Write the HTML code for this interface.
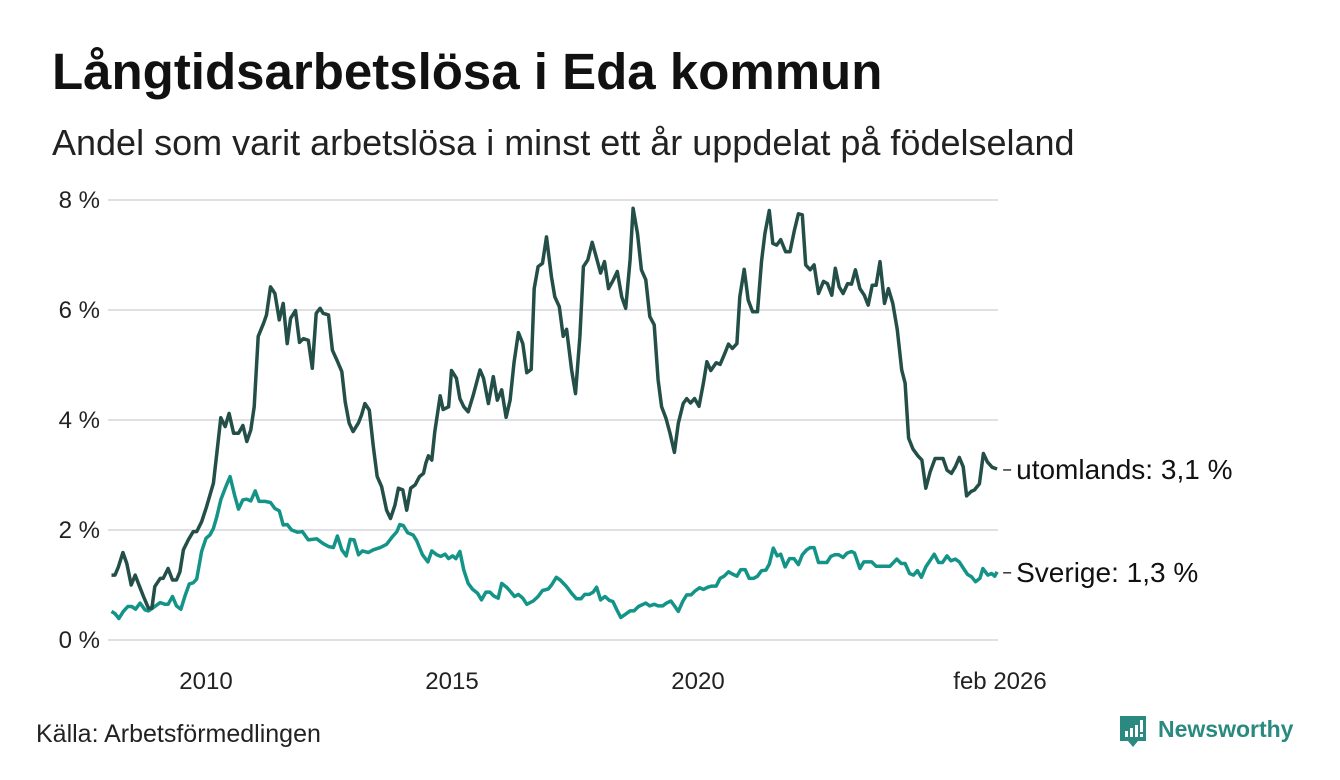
<!DOCTYPE html>
<html><head><meta charset="utf-8">
<style>
body{margin:0;width:1340px;height:780px;background:#fff;font-family:"Liberation Sans","DejaVu Sans",sans-serif;overflow:hidden;position:relative;color:#111}
.t{position:absolute;white-space:nowrap;line-height:1}
</style></head><body>
<div class="t" style="left:52px;top:46px;font-size:51px;font-weight:bold;">Långtidsarbetslösa i Eda kommun</div>
<div class="t" style="left:52px;top:125px;font-size:36px;color:#222">Andel som varit arbetslösa i minst ett år uppdelat på födelseland</div>
<svg id="chart" width="1340" height="780" style="position:absolute;left:0;top:0"></svg>
<div class="t" style="left:36px;top:722px;font-size:25px;color:#222">Källa: Arbetsförmedlingen</div>
<div style="position:absolute;left:1119px;top:715px;">
<svg width="28" height="34" viewBox="0 0 28 34" style="position:absolute;left:0;top:0"><path d="M1 1H27V26H19L14 32L9 26H1Z" fill="#2a8a80"/><rect x="6" y="16" width="3" height="6" fill="#fff"/><rect x="11" y="13" width="3" height="9" fill="#fff"/><rect x="16" y="10" width="3" height="12" fill="#fff"/><rect x="21" y="5" width="3" height="12" fill="#fff"/><rect x="21" y="19" width="3" height="3" fill="#fff"/></svg>
<div class="t" style="left:39px;top:3px;font-size:23px;font-weight:bold;color:#2a8a80">Newsworthy</div>
</div>
<script>
const yTicks=[0,2,4,6,8];
const xTicks=[2010,2015,2020];
const xTickLabels=["2010","2015","2020"];
const endLabel="feb 2026";
const utomYears=[2008.08,2008.15,2008.22,2008.31,2008.39,2008.48,2008.56,2008.65,2008.73,2008.83,2008.90,2008.96,2009.07,2009.13,2009.23,2009.32,2009.40,2009.47,2009.54,2009.64,2009.74,2009.81,2009.91,2010.01,2010.15,2010.22,2010.30,2010.39,2010.47,2010.56,2010.66,2010.75,2010.83,2010.91,2010.98,2011.06,2011.17,2011.23,2011.31,2011.40,2011.49,2011.57,2011.65,2011.72,2011.82,2011.90,2011.98,2012.08,2012.16,2012.24,2012.32,2012.38,2012.49,2012.57,2012.66,2012.76,2012.83,2012.91,2012.99,2013.10,2013.16,2013.23,2013.32,2013.40,2013.48,2013.57,2013.67,2013.75,2013.84,2013.91,2014.00,2014.08,2014.16,2014.25,2014.34,2014.42,2014.47,2014.52,2014.59,2014.65,2014.76,2014.82,2014.93,2014.99,2015.09,2015.16,2015.24,2015.33,2015.43,2015.57,2015.64,2015.74,2015.84,2015.92,2016.01,2016.10,2016.18,2016.26,2016.35,2016.44,2016.52,2016.61,2016.67,2016.75,2016.84,2016.92,2017.02,2017.09,2017.18,2017.26,2017.33,2017.43,2017.51,2017.60,2017.67,2017.76,2017.85,2017.94,2018.02,2018.10,2018.18,2018.28,2018.36,2018.45,2018.53,2018.62,2018.68,2018.77,2018.85,2018.94,2019.02,2019.11,2019.19,2019.26,2019.35,2019.43,2019.52,2019.60,2019.70,2019.77,2019.85,2019.93,2020.02,2020.11,2020.18,2020.26,2020.37,2020.45,2020.53,2020.62,2020.70,2020.79,2020.85,2020.94,2021.02,2021.11,2021.21,2021.29,2021.36,2021.45,2021.52,2021.60,2021.68,2021.78,2021.87,2021.96,2022.04,2022.12,2022.19,2022.28,2022.36,2022.45,2022.55,2022.63,2022.72,2022.79,2022.87,2022.95,2023.04,2023.12,2023.20,2023.29,2023.38,2023.46,2023.54,2023.62,2023.70,2023.79,2023.87,2023.96,2024.05,2024.14,2024.21,2024.28,2024.37,2024.47,2024.55,2024.63,2024.72,2024.82,2024.98,2025.06,2025.15,2025.23,2025.31,2025.39,2025.46,2025.55,2025.62,2025.72,2025.80,2025.88,2025.98,2026.08];
const utomValues=[1.18,1.18,1.33,1.59,1.39,1.00,1.18,0.97,0.79,0.58,0.58,0.97,1.12,1.12,1.30,1.09,1.09,1.24,1.64,1.82,1.97,1.97,2.15,2.42,2.85,3.39,4.04,3.88,4.12,3.76,3.76,3.90,3.61,3.82,4.24,5.52,5.76,5.91,6.42,6.30,5.82,6.12,5.39,5.85,5.99,5.41,5.48,5.45,4.94,5.94,6.03,5.94,5.91,5.27,5.09,4.88,4.33,3.94,3.79,3.95,4.09,4.30,4.18,3.52,2.97,2.79,2.36,2.21,2.45,2.76,2.73,2.36,2.76,2.82,2.97,3.03,3.22,3.35,3.27,3.79,4.44,4.19,4.24,4.90,4.76,4.39,4.24,4.15,4.45,4.91,4.76,4.30,4.79,4.36,4.55,4.05,4.36,5.04,5.59,5.39,4.86,4.92,6.39,6.79,6.85,7.33,6.61,6.24,6.06,5.52,5.65,4.91,4.48,5.52,6.79,6.91,7.23,6.94,6.67,6.88,6.39,6.55,6.70,6.24,6.03,6.91,7.85,7.39,6.73,6.55,5.88,5.73,4.73,4.24,4.03,3.76,3.41,3.94,4.30,4.39,4.31,4.39,4.25,4.67,5.06,4.90,5.04,5.01,5.18,5.38,5.30,5.39,6.24,6.74,6.18,5.97,5.97,6.88,7.39,7.81,7.21,7.18,7.28,7.06,7.06,7.45,7.75,7.73,6.82,6.73,6.82,6.30,6.52,6.48,6.27,6.76,6.42,6.30,6.48,6.47,6.73,6.39,6.27,6.09,6.45,6.45,6.88,6.12,6.39,6.12,5.64,4.91,4.67,3.67,3.47,3.35,3.27,2.76,3.06,3.30,3.30,3.09,3.03,3.15,3.32,3.15,2.62,2.70,2.73,2.84,3.39,3.24,3.14,3.11];
const sveYears=[2008.08,2008.15,2008.23,2008.32,2008.41,2008.49,2008.57,2008.66,2008.76,2008.83,2008.93,2009.07,2009.17,2009.23,2009.32,2009.40,2009.49,2009.57,2009.66,2009.74,2009.81,2009.91,2010.00,2010.08,2010.15,2010.22,2010.30,2010.39,2010.49,2010.58,2010.66,2010.75,2010.83,2010.91,2011.00,2011.08,2011.20,2011.31,2011.40,2011.49,2011.57,2011.65,2011.74,2011.86,2011.96,2012.08,2012.25,2012.37,2012.49,2012.59,2012.67,2012.76,2012.85,2012.93,2013.01,2013.10,2013.18,2013.30,2013.40,2013.54,2013.67,2013.79,2013.88,2013.94,2014.01,2014.10,2014.21,2014.28,2014.40,2014.51,2014.59,2014.69,2014.77,2014.86,2014.93,2015.01,2015.08,2015.16,2015.24,2015.33,2015.42,2015.52,2015.60,2015.69,2015.77,2015.85,2015.94,2016.01,2016.11,2016.19,2016.27,2016.35,2016.44,2016.52,2016.65,2016.75,2016.84,2016.96,2017.03,2017.12,2017.20,2017.32,2017.43,2017.53,2017.62,2017.70,2017.79,2017.87,2017.94,2018.02,2018.11,2018.20,2018.27,2018.35,2018.43,2018.53,2018.62,2018.70,2018.79,2018.94,2019.02,2019.11,2019.19,2019.28,2019.36,2019.45,2019.53,2019.60,2019.69,2019.77,2019.86,2019.94,2020.03,2020.11,2020.20,2020.28,2020.37,2020.45,2020.53,2020.62,2020.70,2020.79,2020.87,2020.96,2021.04,2021.13,2021.21,2021.29,2021.38,2021.45,2021.53,2021.61,2021.68,2021.77,2021.86,2021.95,2022.04,2022.12,2022.21,2022.28,2022.36,2022.45,2022.62,2022.70,2022.78,2022.86,2022.95,2023.03,2023.12,2023.18,2023.29,2023.37,2023.53,2023.62,2023.90,2024.04,2024.13,2024.21,2024.30,2024.38,2024.46,2024.54,2024.63,2024.72,2024.80,2024.89,2024.97,2025.06,2025.14,2025.23,2025.31,2025.39,2025.48,2025.56,2025.64,2025.73,2025.79,2025.89,2025.97,2026.03,2026.08];
const sveValues=[0.52,0.48,0.39,0.52,0.61,0.61,0.56,0.67,0.55,0.53,0.59,0.68,0.65,0.65,0.79,0.62,0.56,0.79,1.02,1.04,1.11,1.61,1.85,1.91,2.03,2.24,2.55,2.76,2.97,2.64,2.38,2.55,2.56,2.53,2.71,2.52,2.52,2.50,2.39,2.35,2.09,2.10,2.00,1.96,1.97,1.82,1.84,1.76,1.70,1.68,1.89,1.64,1.53,1.83,1.82,1.55,1.62,1.59,1.64,1.68,1.74,1.88,1.97,2.10,2.08,1.95,1.91,1.81,1.55,1.42,1.62,1.55,1.52,1.56,1.48,1.53,1.48,1.61,1.27,1.03,0.92,0.85,0.73,0.87,0.87,0.80,0.76,1.03,0.96,0.88,0.79,0.83,0.76,0.65,0.71,0.79,0.90,0.93,1.01,1.14,1.09,0.98,0.85,0.75,0.75,0.83,0.83,0.87,0.96,0.73,0.79,0.72,0.70,0.55,0.41,0.47,0.53,0.53,0.61,0.67,0.62,0.65,0.62,0.62,0.67,0.71,0.61,0.52,0.70,0.82,0.82,0.89,0.95,0.92,0.96,0.98,0.98,1.12,1.16,1.24,1.20,1.16,1.28,1.28,1.12,1.12,1.16,1.26,1.27,1.38,1.67,1.53,1.56,1.33,1.48,1.48,1.37,1.55,1.64,1.68,1.68,1.41,1.41,1.52,1.55,1.55,1.50,1.58,1.61,1.58,1.30,1.42,1.42,1.34,1.34,1.47,1.39,1.39,1.21,1.18,1.26,1.14,1.33,1.45,1.56,1.41,1.41,1.53,1.44,1.47,1.42,1.31,1.19,1.15,1.06,1.12,1.30,1.18,1.21,1.16,1.24];
const utomLabel="utomlands: 3,1 %";
const sveLabel="Sverige: 1,3 %";

const svg=document.getElementById('chart');
const NS='http://www.w3.org/2000/svg';
const x=v=>206+(v-2010)*49.2;
const y=v=>640-v*55;
function mk(tag,attrs){const e=document.createElementNS(NS,tag);for(const k in attrs)e.setAttribute(k,attrs[k]);svg.appendChild(e);return e;}
yTicks.forEach(t=>{
  const g=mk('line',{x1:108,x2:998,y1:y(t),y2:y(t),stroke:'#e0dfe4','stroke-width':2});
  
  
  const l=mk('text',{x:100,y:y(t)+8,'text-anchor':'end','font-size':24,fill:'#222','font-family':'Liberation Sans, sans-serif'});
  l.textContent=t+' %';
  
  
});
xTicks.forEach((t,i)=>{
  const l=mk('text',{x:x(t),y:689,'text-anchor':'middle','font-size':24,fill:'#222','font-family':'Liberation Sans, sans-serif'});
  l.textContent=xTickLabels[i];
  
  
});
const el=mk('text',{x:1000,y:689,'text-anchor':'middle','font-size':24,fill:'#222','font-family':'Liberation Sans, sans-serif'});
el.textContent=endLabel;


function line(xs,vs,color,name){
  const d=xs.map((v,i)=>(i?'L':'M')+x(v).toFixed(1)+' '+y(vs[i]).toFixed(1)).join(' ');
  const p=mk('path',{d:d,fill:'none',stroke:color,'stroke-width':3.5,'stroke-linejoin':'round'});
  
  
}
line(sveYears,sveValues,'#149488','sverige-line');
line(utomYears,utomValues,'#234f48','utomlands-line');
function endLab(xs,vs,txt,name){
  const ex=x(xs[xs.length-1]),ey=y(vs[vs.length-1]);
  const d=mk('line',{x1:ex+6,x2:ex+14,y1:ey+1,y2:ey+1,stroke:'#333','stroke-width':1.5});
  
  
  const t=mk('text',{x:ex+19,y:ey+10,'font-size':28,fill:'#111','font-family':'Liberation Sans, sans-serif'});
  t.textContent=txt;
  
  
}
endLab(utomYears,utomValues,utomLabel,'utomlands-label');
endLab(sveYears,sveValues,sveLabel,'sverige-label');
</script>
</body></html>
